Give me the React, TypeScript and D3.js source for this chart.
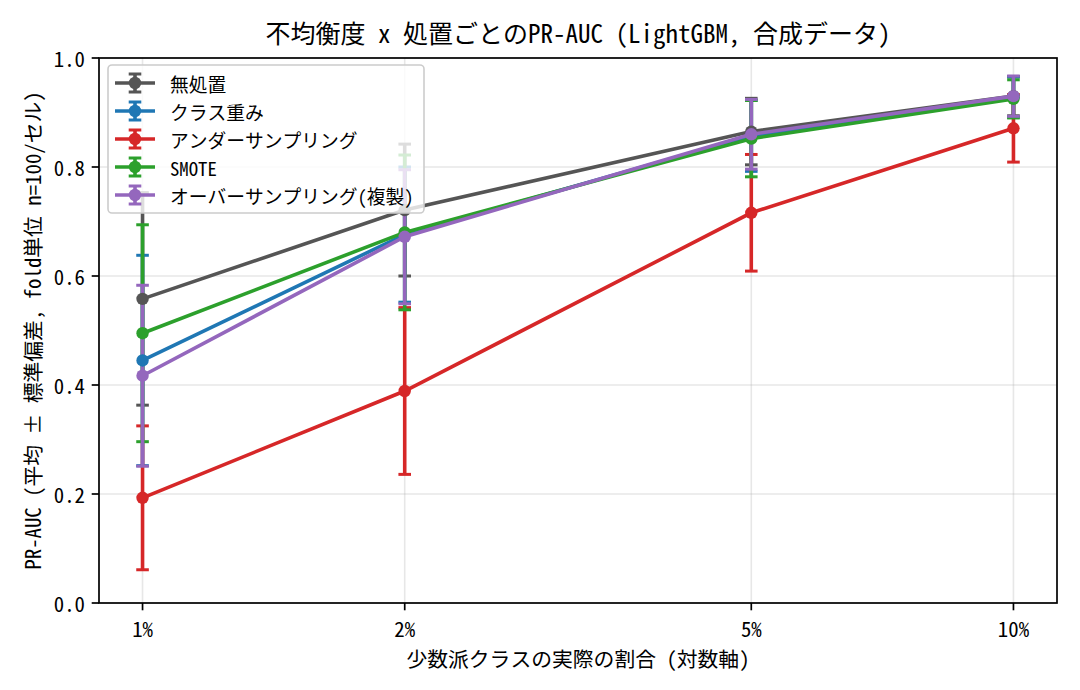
import { line, scaleLinear, scaleLog } from 'd3';

// 少数派クラスの割合 (%)
const ratios = [1, 2, 5, 10];
const ratioLabels = ['1%', '2%', '5%', '10%'];
const yTicks = [0, 0.2, 0.4, 0.6, 0.8, 1.0];

const seriesNames = ['無処置', 'クラス重み', 'アンダーサンプリング', 'SMOTE', 'オーバーサンプリング(複製)'];
const seriesColors = ['#555555', '#1f77b4', '#d62728', '#2ca02c', '#9467bd'];

const meanNone = [0.558, 0.721, 0.865, 0.93];
const stdNone = [0.195, 0.121, 0.061, 0.036];
const meanWeight = [0.445, 0.676, 0.857, 0.928];
const stdWeight = [0.193, 0.124, 0.065, 0.037];
const meanUnder = [0.193, 0.389, 0.716, 0.871];
const stdUnder = [0.132, 0.153, 0.107, 0.062];
const meanSmote = [0.495, 0.68, 0.852, 0.925];
const stdSmote = [0.199, 0.142, 0.07, 0.035];
const meanOver = [0.417, 0.672, 0.86, 0.93];
const stdOver = [0.166, 0.123, 0.064, 0.037];

const means = [meanNone, meanWeight, meanUnder, meanSmote, meanOver];
const stds = [stdNone, stdWeight, stdUnder, stdSmote, stdOver];

const FONT = '"Noto Sans Mono CJK JP", "Noto Sans CJK JP", "DejaVu Sans Mono", monospace';

export default function App() {
  const width = 1080;
  const height = 690;
  const margin = { top: 58, right: 23, bottom: 87, left: 99 };

  const x = scaleLog()
    .domain([Math.pow(10, -0.05), Math.pow(10, 1.05)])
    .range([margin.left, width - margin.right]);
  const y = scaleLinear()
    .domain([0, 1])
    .range([height - margin.bottom, margin.top]);

  const lineGen = line<number>()
    .x((_, i) => x(ratios[i]))
    .y((d) => y(d));

  const lw = 3.6;
  const cap = 6.3;
  const legendX = 108;
  const legendY = 65;
  const rowH = 28;

  return (
    <svg
      width={width}
      height={height}
      style={{ position: 'absolute', left: 0, top: 0, background: '#fff' }}
      fontFamily={FONT}>
      <rect x={0} y={0} width={width} height={height} fill='#fff' />

      {/* grid */}
      <g stroke='#b0b0b0' strokeOpacity={0.3} strokeWidth={1.6}>
        {yTicks.map((t) => (
          <line key={'gy' + t} x1={margin.left} x2={width - margin.right} y1={y(t)} y2={y(t)} />
        ))}
        {ratios.map((r) => (
          <line key={'gx' + r} x1={x(r)} x2={x(r)} y1={margin.top} y2={height - margin.bottom} />
        ))}
      </g>

      {/* error bars (below lines) */}
      <g>
        {means.map((m, si) => (
          <g key={'eb' + si} stroke={seriesColors[si]} strokeWidth={lw}>
            {m.map((v, i) => {
              const cx = x(ratios[i]);
              const lo = y(v - stds[si][i]);
              const hi = y(v + stds[si][i]);
              return (
                <g key={i}>
                  <line x1={cx} x2={cx} y1={lo} y2={hi} />
                  <line x1={cx - cap} x2={cx + cap} y1={lo} y2={lo} strokeWidth={3} />
                  <line x1={cx - cap} x2={cx + cap} y1={hi} y2={hi} strokeWidth={3} />
                </g>
              );
            })}
          </g>
        ))}
      </g>

      {/* lines + markers */}
      <g>
        {means.map((m, si) => (
          <g key={'ln' + si}>
            <path d={lineGen(m) ?? ''} fill='none' stroke={seriesColors[si]} strokeWidth={lw} />
            {m.map((v, i) => (
              <circle key={i} cx={x(ratios[i])} cy={y(v)} r={6.2} fill={seriesColors[si]} />
            ))}
          </g>
        ))}
      </g>

      {/* frame */}
      <rect
        x={margin.left}
        y={margin.top}
        width={width - margin.left - margin.right}
        height={height - margin.top - margin.bottom}
        fill='none'
        stroke='#000'
        strokeWidth={1.7}
      />

      {/* y axis */}
      <g fontSize={20.8} fill='#000'>
        {yTicks.map((t) => (
          <g key={'yt' + t}>
            <line x1={margin.left - 7.3} x2={margin.left} y1={y(t)} y2={y(t)} stroke='#000' strokeWidth={1.7} />
            <text x={margin.left - 14} y={y(t)} textAnchor='end' dominantBaseline='central'>
              {t.toFixed(1)}
            </text>
          </g>
        ))}
      </g>

      {/* x axis */}
      <g fontSize={20.8} fill='#000'>
        {ratios.map((r, i) => (
          <g key={'xt' + r}>
            <line
              x1={x(r)}
              x2={x(r)}
              y1={height - margin.bottom}
              y2={height - margin.bottom + 7.3}
              stroke='#000'
              strokeWidth={1.7}
            />
            <text x={x(r)} y={height - margin.bottom + 34} textAnchor='middle'>
              {ratioLabels[i]}
            </text>
          </g>
        ))}
      </g>

      {/* labels */}
      <text x={(margin.left + width - margin.right) / 2} y={43} textAnchor='middle' fontSize={25}>
        不均衡度 x 処置ごとのPR-AUC (LightGBM, 合成データ)
      </text>
      <text x={(margin.left + width - margin.right) / 2} y={667} textAnchor='middle' fontSize={20.8}>
        少数派クラスの実際の割合 (対数軸)
      </text>
      <text
        transform={`translate(41, ${(margin.top + height - margin.bottom) / 2}) rotate(-90)`}
        textAnchor='middle'
        fontSize={20.8}>
        PR-AUC (平均 ± 標準偏差, fold単位 n=100/セル)
      </text>

      {/* legend */}
      <g>
        <rect
          x={legendX}
          y={legendY}
          width={316}
          height={148}
          rx={4}
          fill='#fff'
          fillOpacity={0.8}
          stroke='#cccccc'
          strokeWidth={1.6}
        />
        {seriesNames.map((name, si) => {
          const cy = legendY + 18 + si * rowH;
          const hx = 135;
          return (
            <g key={'lg' + si}>
              <line x1={115} x2={155} y1={cy} y2={cy} stroke={seriesColors[si]} strokeWidth={lw} />
              <line x1={hx} x2={hx} y1={cy - 9} y2={cy + 9} stroke={seriesColors[si]} strokeWidth={lw} />
              <line x1={hx - cap} x2={hx + cap} y1={cy - 9} y2={cy - 9} stroke={seriesColors[si]} strokeWidth={3} />
              <line x1={hx - cap} x2={hx + cap} y1={cy + 9} y2={cy + 9} stroke={seriesColors[si]} strokeWidth={3} />
              <circle cx={hx} cy={cy} r={6.2} fill={seriesColors[si]} />
              <text x={170} y={cy} dominantBaseline='central' fontSize={18.75}>
                {name}
              </text>
            </g>
          );
        })}
      </g>
    </svg>
  );
}
